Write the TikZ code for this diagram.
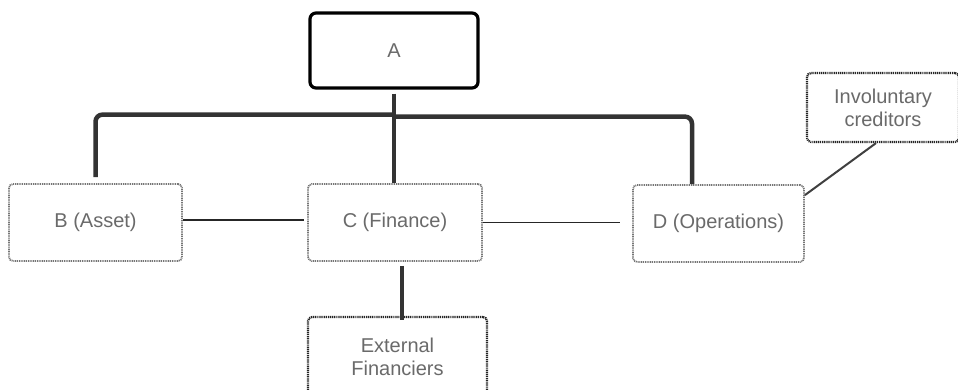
\documentclass[tikz,border=0pt]{standalone}
\usepackage{fontspec}
\setmainfont{Liberation Sans}
\definecolor{txt}{HTML}{6A6A6A}
\definecolor{bus}{HTML}{333333}
\definecolor{dotg}{HTML}{757575}
\begin{document}
\begin{tikzpicture}[x=1pt,y=-1pt,
  lbl/.style={text=txt,font=\fontsize{20}{23}\selectfont,align=center,inner sep=0pt},
  topbox/.style={lbl,draw=black,line width=3.2pt,rounded corners=6pt},
  softbox/.style={lbl,draw=dotg,line width=1.8pt,dash pattern=on 1pt off 0.8pt,rounded corners=4pt},
  darkbox/.style={lbl,draw=black!85,line width=2.2pt,dash pattern=on 1.1pt off 0.8pt,rounded corners=4pt},
  busline/.style={draw=bus,line width=4.5pt},
  thin/.style={draw=black!85,line width=1.4pt}]
\clip (0,0) rectangle (958,389);
\fill[white] (0,0) rectangle (958,389);
\node[topbox,minimum width=168pt,minimum height=75pt] (A) at (394,50.5) {A};
\node[softbox,minimum width=173pt,minimum height=77pt] (B) at (95.5,222.5) {B (Asset)};
\node[softbox,minimum width=174pt,minimum height=77pt] (C) at (395,222.5) {C (Finance)};
\node[softbox,minimum width=171pt,minimum height=77pt] (D) at (718.5,223.5) {D (Operations)};
\node[darkbox,minimum width=152pt,minimum height=69pt] (I) at (883,107.5) {Involuntary\\creditors};
\node[darkbox,minimum width=179pt,minimum height=80pt] (E) at (397.5,357) {External\\Financiers};
% thick hierarchy lines
\draw[busline,rounded corners=7pt] ([yshift=-25pt]A.south) -| ([yshift=6pt]B.north);
\draw[busline,rounded corners=7pt] ([yshift=-27pt]A.south) -| ([xshift=-26.5pt]D.north);
\draw[busline] ([yshift=-4pt]A.south) -- (A.south |- C.north);
\draw[busline] ([xshift=7pt,yshift=-4pt]C.south) -- ([xshift=7pt,yshift=-4pt]C.south |- E.north);
% thin lines
\draw[thin] ([yshift=2.5pt]B.east) -- ([xshift=-3pt,yshift=2.5pt]C.west);
\draw[thin] (C.east) -- ([xshift=-12pt]C.east -| D.west);
\draw[thin,draw=black!75,line width=2pt] ([yshift=-11pt]D.north east) -- ([xshift=-7pt]I.south);
\end{tikzpicture}
\end{document}
